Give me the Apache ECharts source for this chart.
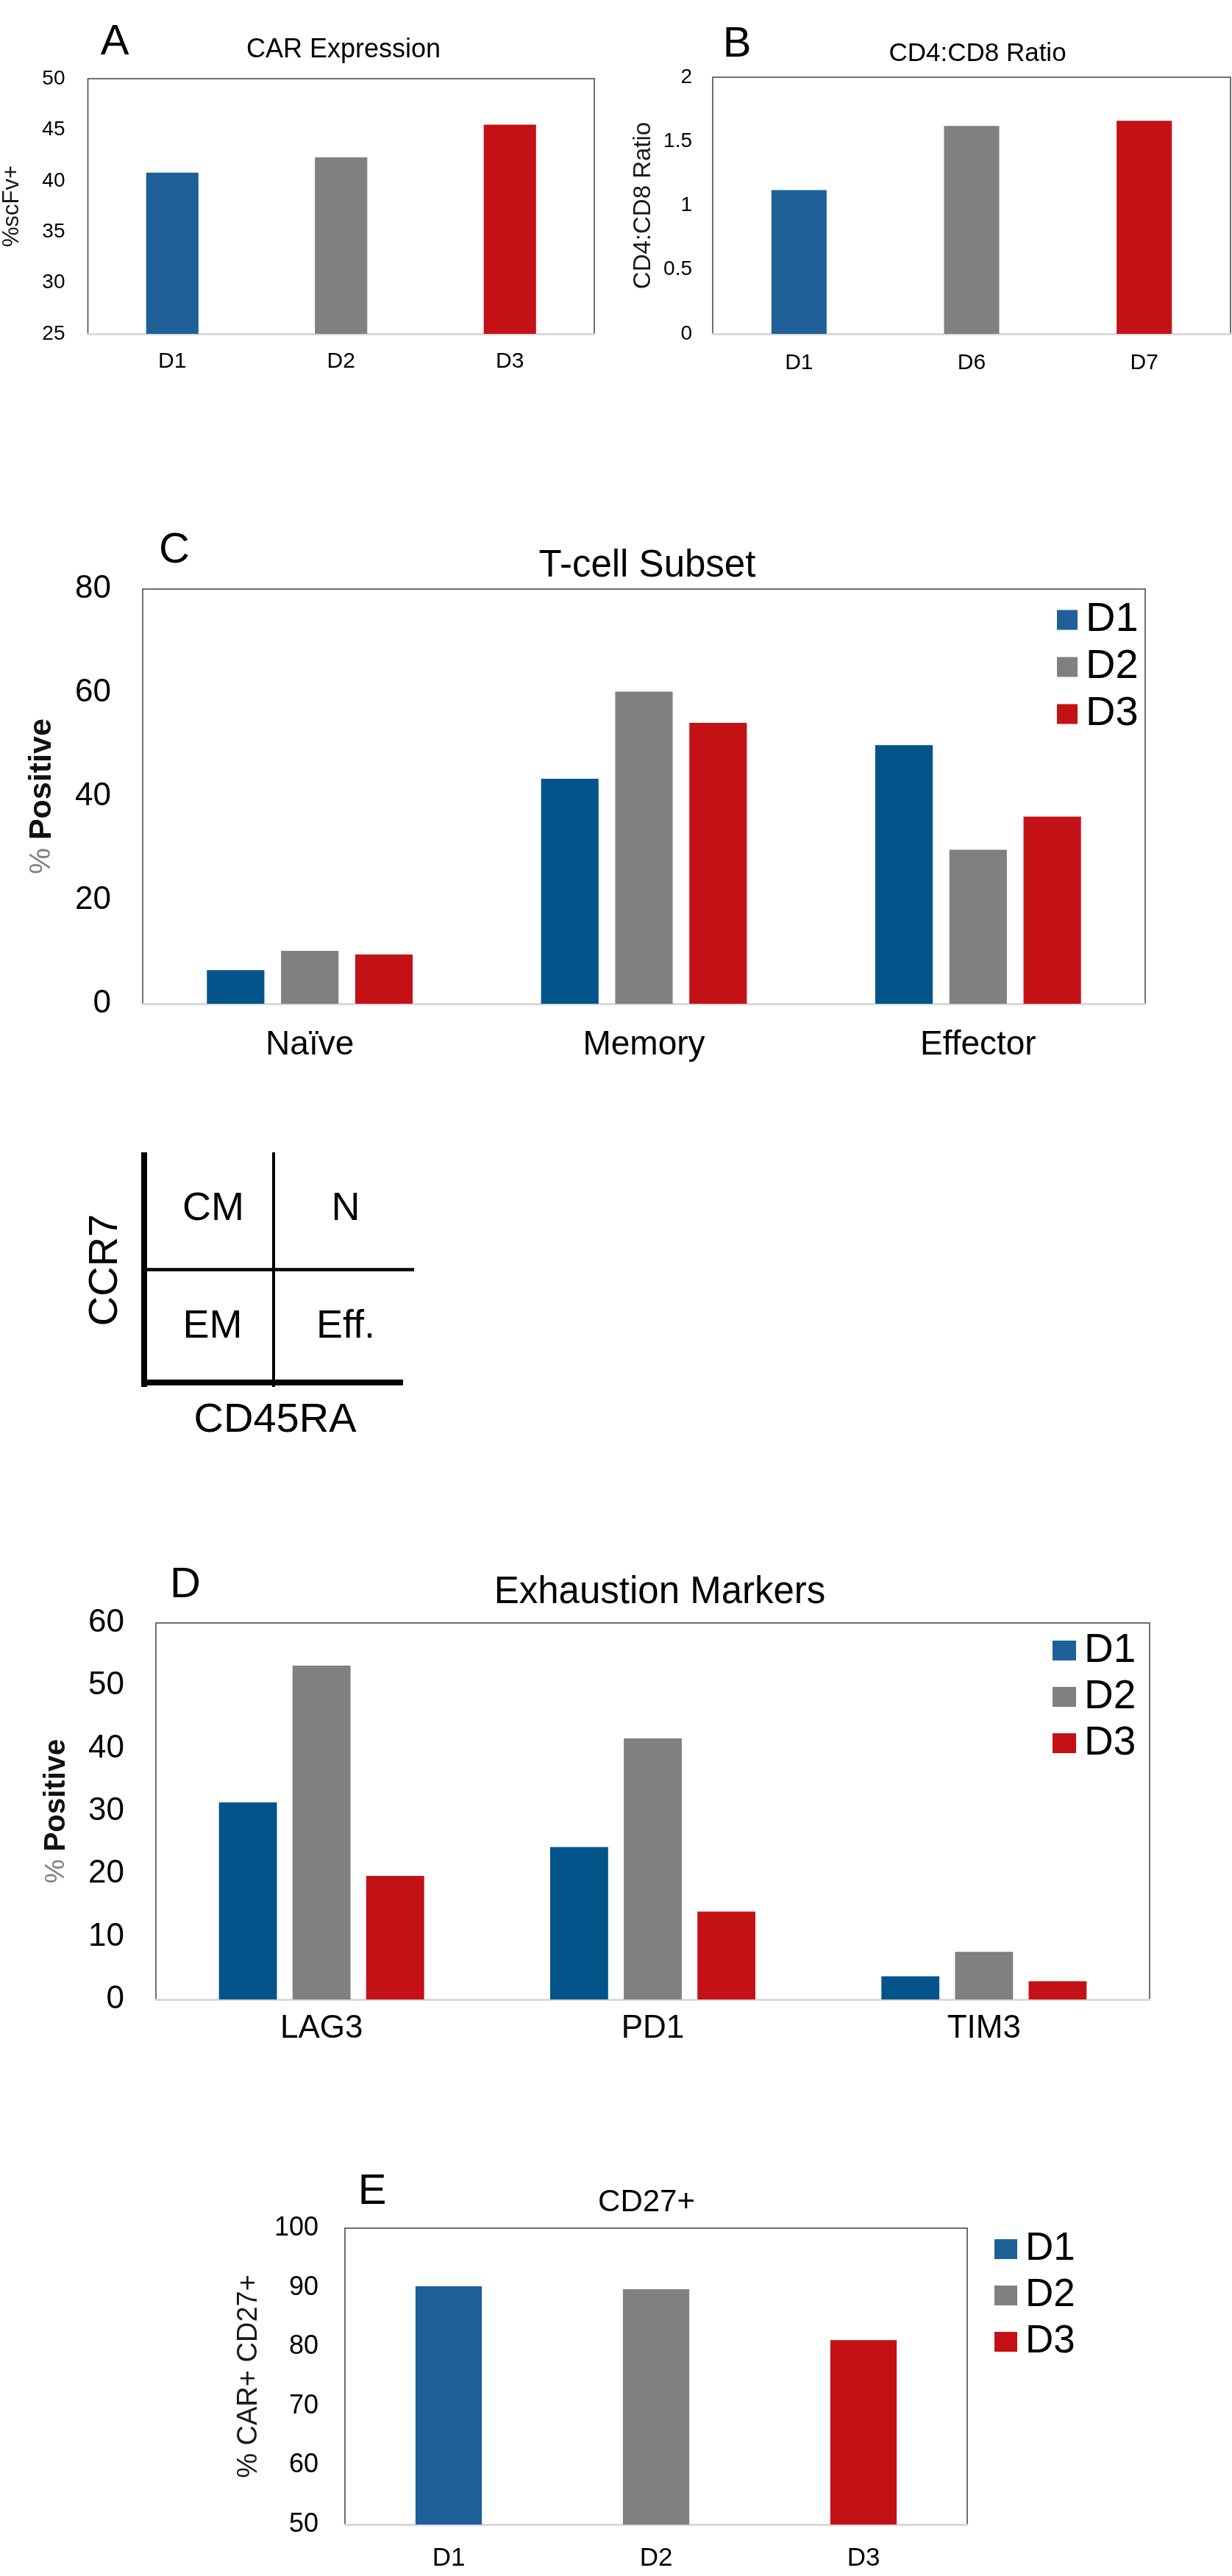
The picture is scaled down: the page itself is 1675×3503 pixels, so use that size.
<!DOCTYPE html>
<html>
<head>
<meta charset="utf-8">
<script src="https://cdn.jsdelivr.net/npm/echarts@6/dist/echarts.min.js"></script>
<style>
  html, body { margin: 0; padding: 0; background: #fff; }
  #chart { width: 1675px; height: 3503px; }
</style>
</head>
<body>
<div id="chart"></div>
<script>
// ---------------- data ----------------
const carCats = ['D1', 'D2', 'D3'];
const carVals = [40.8, 42.3, 45.5];

const ratioCats = ['D1', 'D6', 'D7'];
const ratioVals = [1.12, 1.62, 1.66];

const subsetCats = ['Naïve', 'Memory', 'Effector'];
const subsetD1 = [6.5, 43.4, 49.9];
const subsetD2 = [10.2, 60.2, 29.7];
const subsetD3 = [9.5, 54.2, 36.1];

const exhCats = ['LAG3', 'PD1', 'TIM3'];
const exhD1 = [31.4, 24.3, 3.7];
const exhD2 = [53.2, 41.6, 7.6];
const exhD3 = [19.7, 14.0, 2.9];

const cd27Cats = ['D1', 'D2', 'D3'];
const cd27Vals = [90.2, 89.7, 81.1];

const donorNames = ['D1', 'D2', 'D3'];

// axis ranges
const carAxis = { min: 25, max: 50, interval: 5 };
const ratioAxis = { min: 0, max: 2, interval: 0.5 };
const subsetAxis = { min: 0, max: 80, interval: 20 };
const exhAxis = { min: 0, max: 60, interval: 10 };
const cd27Axis = { min: 50, max: 100, interval: 10 };

// ---------------- styles ----------------
const FONT = "'Liberation Sans', Arial, Helvetica, sans-serif";
const BLUE = '#1F6099';
const BLUE_DARK = '#02548A';
const GRAY = '#808080';
const RED = '#C41116';
const singleColors = [BLUE, GRAY, RED];
const groupColors = [BLUE_DARK, GRAY, RED];

const chart = echarts.init(document.getElementById('chart'), null, { renderer: 'canvas' });

const grids = [
  { left: 117, top: 107, width: 691, height: 347 },   // A
  { left: 969, top: 105, width: 704, height: 349 },   // B
  { left: 194, top: 801, width: 1363, height: 564 },  // C
  { left: 212, top: 2207, width: 1351, height: 512 }, // D
  { left: 469, top: 3030, width: 846, height: 403 }   // E
].map(g => Object.assign({ show: true, borderColor: '#404040', borderWidth: 1.5, containLabel: false }, g));

function xAx(idx, cats, fontSize, margin) {
  return {
    type: 'category', gridIndex: idx, data: cats,
    axisLine: { show: true, lineStyle: { color: '#D9D9D9', width: 3 } },
    axisTick: { show: false },
    axisLabel: { color: '#000', fontFamily: FONT, fontSize: fontSize, margin: margin }
  };
}
function yAx(idx, range, fontSize, margin, name, nameGap, nameStyle) {
  return Object.assign({
    type: 'value', gridIndex: idx,
    axisLine: { show: false }, axisTick: { show: false }, splitLine: { show: false },
    axisLabel: { color: '#000', fontFamily: FONT, fontSize: fontSize, margin: margin },
    name: name, nameLocation: 'middle', nameGap: nameGap,
    nameTextStyle: Object.assign({ fontFamily: FONT, color: '#1a1a1a', align: 'center', verticalAlign: 'middle' }, nameStyle)
  }, range);
}

const xAxes = [
  xAx(0, carCats, 30, 23),
  xAx(1, ratioCats, 30, 25),
  xAx(2, subsetCats, 46, 33),
  xAx(3, exhCats, 44, 18),
  xAx(4, cd27Cats, 35, 29)
];

const posRich = {
  rich: {
    p: { fontFamily: FONT, fontSize: 40, color: '#7F7F7F' },
    b: { fontFamily: FONT, fontSize: 43, fontWeight: 'bold', color: '#111' }
  }
};
const posRichD = {
  rich: {
    p: { fontFamily: FONT, fontSize: 37, color: '#7F7F7F' },
    b: { fontFamily: FONT, fontSize: 40, fontWeight: 'bold', color: '#111' }
  }
};

const yAxes = [
  yAx(0, carAxis, 28, 31, '%scFv+', 103, { fontSize: 31 }),
  yAx(1, ratioAxis, 28, 28, 'CD4:CD8 Ratio', 94, { fontSize: 33 }),
  yAx(2, subsetAxis, 44, 43, '{p|%\u00A0}{b|Positive}', 137, posRich),
  yAx(3, exhAxis, 44, 43, '{p|%\u00A0}{b|Positive}', 135, posRichD),
  yAx(4, cd27Axis, 36, 36, '% CAR+ CD27+', 130, { fontSize: 38 })
];

const series = [];
// A
series.push({
  type: 'bar', xAxisIndex: 0, yAxisIndex: 0, barWidth: '31%',
  data: carVals.map((v, i) => ({ value: v, itemStyle: { color: singleColors[i] } }))
});
// B
series.push({
  type: 'bar', xAxisIndex: 1, yAxisIndex: 1, barWidth: '32%',
  data: ratioVals.map((v, i) => ({ value: v, itemStyle: { color: singleColors[i] } }))
});
// C
[subsetD1, subsetD2, subsetD3].forEach((arr, k) => {
  series.push({
    type: 'bar', name: donorNames[k], xAxisIndex: 2, yAxisIndex: 2,
    barWidth: '17.2%', barGap: '29%',
    itemStyle: { color: groupColors[k] }, data: arr
  });
});
// D
[exhD1, exhD2, exhD3].forEach((arr, k) => {
  series.push({
    type: 'bar', name: donorNames[k], xAxisIndex: 3, yAxisIndex: 3,
    barWidth: '17.5%', barGap: '27%',
    itemStyle: { color: groupColors[k] }, data: arr
  });
});
// E (one series per donor so the legend lists them; bars overlap into one slot)
donorNames.forEach((nm, k) => {
  series.push({
    type: 'bar', name: nm, xAxisIndex: 4, yAxisIndex: 4,
    barWidth: '32%', barGap: '-100%',
    itemStyle: { color: singleColors[k] },
    data: cd27Vals.map((v, i) => (i === k ? v : '-'))
  });
});

function legendAt(left, top, fontSize, w, h, gap) {
  return {
    orient: 'vertical', left: left, top: top,
    icon: 'rect', itemWidth: w, itemHeight: h, itemGap: gap,
    selectedMode: false,
    textStyle: { fontFamily: FONT, fontSize: fontSize, color: '#000', lineHeight: fontSize, padding: [0, 0, 0, 6] },
    data: donorNames.map((n, k) => ({ name: n, itemStyle: { color: singleColors[k] } }))
  };
}
const legends = [
  legendAt(1432, 810, 56, 28, 27, 8),
  legendAt(1426, 2212, 55, 32, 27, 8),
  legendAt(1347, 3027, 53, 31, 27, 10)
];

function txt(x, y, text, size, extra) {
  return Object.assign({
    type: 'text', x: x, y: y,
    style: { text: text, font: size + 'px ' + FONT, fill: '#000', align: 'center', verticalAlign: 'middle' }
  }, extra || {});
}
function line(x1, y1, x2, y2, w) {
  return { type: 'line', shape: { x1: x1, y1: y1, x2: x2, y2: y2 }, style: { stroke: '#000', lineWidth: w } };
}

const graphics = [
  // panel letters
  txt(156, 58, 'A', 58),
  txt(1002, 61, 'B', 58),
  txt(237, 749, 'C', 58),
  txt(252, 2156, 'D', 58),
  txt(506, 2981, 'E', 58),
  // panel titles
  txt(467, 68, 'CAR Expression', 36),
  txt(1329, 73, 'CD4:CD8 Ratio', 35),
  txt(880, 770, 'T-cell Subset', 51),
  txt(897, 2166, 'Exhaustion Markers', 51),
  txt(879, 2995, 'CD27+', 42),
  // CCR7 / CD45RA schematic
  line(196, 1567, 196, 1886, 8),
  line(372, 1567, 372, 1886, 4),
  line(200, 1726.5, 563, 1726.5, 4.5),
  line(196, 1880, 548, 1880, 8),
  txt(290, 1644, 'CM', 54),
  txt(470, 1644, 'N', 54),
  txt(289, 1804, 'EM', 54),
  txt(470, 1804, 'Eff.', 54),
  txt(144, 1727, 'CCR7', 56, { rotation: Math.PI / 2 }),
  txt(374, 1932, 'CD45RA', 56)
];

chart.setOption({
  backgroundColor: '#fff',
  animation: false,
  textStyle: { fontFamily: FONT },
  grid: grids,
  xAxis: xAxes,
  yAxis: yAxes,
  legend: legends,
  series: series,
  graphic: graphics
});
</script>
</body>
</html>
